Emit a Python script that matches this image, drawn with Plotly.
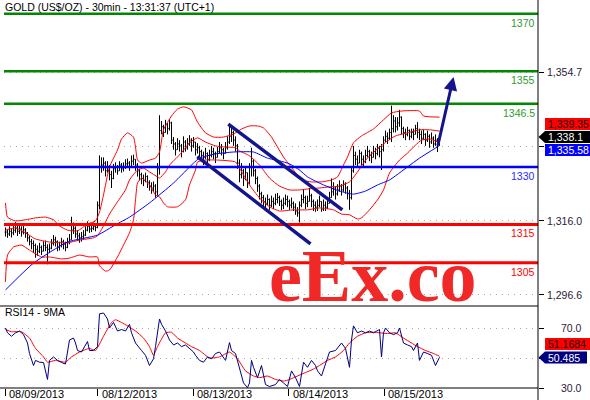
import plotly.graph_objects as go
from plotly.subplots import make_subplots

# GOLD (US$/OZ) 30-minute bars, 08/09/2013 - 08/15/2013
closes = [
    1313.0, 1312.5, 1313.2, 1312.8, 1313.5, 1314.0, 1313.2, 1313.8, 1313.0, 1313.6,
    1312.8, 1311.5, 1310.5, 1310.0, 1309.5, 1308.5, 1308.0, 1309.0, 1308.0, 1309.5,
    1309.0, 1308.5, 1308.8, 1310.0, 1311.0, 1310.5, 1309.0, 1309.5, 1310.5, 1309.8,
    1309.0, 1310.2, 1311.0, 1313.5, 1314.0, 1312.5, 1312.0, 1311.5, 1311.8, 1312.2,
    1313.5, 1314.5, 1313.8, 1314.0, 1314.5, 1314.2, 1320.0, 1330.0, 1330.5, 1331.0,
    1329.0, 1330.0, 1328.0, 1327.0, 1329.5, 1330.0, 1329.0, 1330.5, 1329.5, 1330.0,
    1330.8, 1331.0, 1330.0, 1331.5, 1332.0, 1330.5, 1329.0, 1328.0, 1327.0, 1326.5,
    1327.5, 1326.0, 1325.0, 1324.5, 1325.0, 1323.5, 1329.5, 1339.5, 1340.5, 1339.0,
    1341.0, 1340.0, 1341.5, 1337.0, 1336.0, 1334.5, 1336.0, 1335.5, 1334.0, 1336.5,
    1335.0, 1336.0, 1337.0, 1335.5, 1336.5, 1334.5, 1335.0, 1334.0, 1333.0, 1332.5,
    1333.5, 1332.0, 1333.0, 1334.0, 1333.5, 1332.5, 1334.0, 1335.0, 1334.5, 1333.5,
    1335.0, 1336.5, 1338.0, 1339.0, 1337.0, 1335.5, 1331.0, 1328.0, 1329.0, 1327.0,
    1328.5, 1326.0, 1330.0, 1331.5, 1329.0, 1327.0, 1325.0, 1323.0, 1322.0, 1321.0,
    1320.5, 1321.5, 1320.0, 1321.0, 1320.5, 1321.5, 1322.0, 1321.0, 1320.0, 1320.5,
    1321.5, 1321.0, 1320.0, 1320.5, 1319.5, 1318.5, 1318.0, 1320.0, 1321.5, 1322.0,
    1320.5, 1321.0, 1322.5, 1321.0, 1320.0, 1319.5, 1320.0, 1321.0, 1319.0, 1320.0,
    1319.5, 1320.5, 1322.0, 1323.5, 1324.5, 1323.0, 1324.0, 1325.0, 1324.0, 1325.5,
    1324.5, 1323.0, 1322.0, 1329.0, 1333.0, 1332.0, 1331.0, 1333.5, 1332.0, 1331.5,
    1333.0, 1334.0, 1333.0, 1332.5, 1334.0, 1333.5, 1335.0, 1334.0, 1334.5, 1337.0,
    1338.0, 1337.5, 1339.0, 1340.0, 1342.0, 1340.5, 1341.5, 1343.0, 1340.0, 1339.0,
    1338.5, 1339.5, 1338.0, 1339.0, 1338.5, 1340.0, 1339.0, 1338.5, 1337.5, 1338.5,
    1337.0, 1338.0, 1336.5, 1337.5, 1336.0, 1337.0, 1336.0, 1338.1,
]
highs = [
    1314.2, 1313.6, 1314.5, 1314.0, 1314.8, 1315.6, 1314.6, 1314.8, 1314.5, 1314.8,
    1314.0, 1313.0, 1312.0, 1311.2, 1310.8, 1310.0, 1309.5, 1310.2, 1309.5, 1310.6,
    1310.8, 1309.8, 1310.0, 1311.2, 1312.2, 1311.8, 1310.8, 1310.5, 1311.5, 1311.0,
    1310.5, 1311.5, 1312.5, 1317.0, 1315.5, 1314.5, 1313.5, 1312.8, 1313.0, 1313.5,
    1314.5, 1315.8, 1315.0, 1315.2, 1315.5, 1315.3, 1321.0, 1333.0, 1332.5, 1332.5,
    1331.5, 1331.5, 1330.5, 1329.0, 1330.8, 1331.2, 1330.5, 1331.5, 1331.0, 1331.2,
    1332.0, 1332.2, 1331.5, 1333.0, 1333.2, 1332.0, 1331.0, 1329.5, 1328.5, 1328.0,
    1328.5, 1327.8, 1326.5, 1326.0, 1326.2, 1325.5, 1331.0, 1343.5, 1342.0, 1341.0,
    1342.3, 1341.5, 1342.5, 1341.8, 1337.8, 1336.5, 1337.5, 1337.0, 1336.0, 1338.0,
    1337.0, 1337.5, 1338.3, 1337.5, 1337.8, 1336.5, 1336.2, 1335.5, 1334.5, 1334.0,
    1335.0, 1333.8, 1334.5, 1335.5, 1335.0, 1334.0, 1335.2, 1336.5, 1336.0, 1335.0,
    1336.5, 1338.0, 1341.4, 1340.5, 1339.5, 1338.0, 1336.0, 1332.0, 1331.0, 1329.5,
    1330.0, 1328.5, 1331.0, 1335.0, 1332.0, 1329.5, 1327.5, 1325.5, 1323.5, 1322.7,
    1322.0, 1322.8, 1321.8, 1322.5, 1322.0, 1323.0, 1323.2, 1322.5, 1321.5, 1322.0,
    1322.8, 1322.5, 1321.5, 1322.0, 1321.0, 1320.5, 1319.5, 1321.0, 1322.8, 1324.0,
    1322.5, 1322.5, 1324.5, 1323.0, 1321.5, 1321.0, 1321.5, 1322.5, 1321.0, 1321.5,
    1321.0, 1322.0, 1323.5, 1327.0, 1326.0, 1325.0, 1325.5, 1326.5, 1325.5, 1326.5,
    1326.0, 1325.0, 1324.0, 1330.0, 1335.5, 1334.0, 1333.0, 1334.5, 1334.0, 1333.0,
    1334.5, 1335.5, 1334.5, 1334.0, 1335.5, 1335.0, 1336.0, 1335.5, 1336.0, 1338.0,
    1339.5, 1339.0, 1340.0, 1346.0, 1343.5, 1343.0, 1343.0, 1344.9, 1343.2, 1340.5,
    1340.0, 1340.5, 1339.8, 1340.0, 1340.0, 1341.0, 1341.7, 1340.0, 1339.5, 1339.8,
    1338.8, 1339.5, 1338.5, 1339.0, 1338.0, 1338.5, 1337.5, 1338.6,
]
lows = [
    1311.8, 1311.5, 1312.0, 1311.6, 1312.2, 1312.8, 1312.0, 1312.5, 1311.8, 1312.4,
    1311.5, 1310.5, 1309.5, 1308.5, 1307.5, 1306.3, 1306.8, 1307.5, 1307.0, 1308.0,
    1308.0, 1304.6, 1307.5, 1308.5, 1309.5, 1309.2, 1308.0, 1308.2, 1309.0, 1308.5,
    1308.0, 1308.8, 1309.8, 1311.0, 1312.5, 1311.5, 1310.8, 1310.2, 1310.5, 1311.0,
    1312.0, 1313.2, 1312.8, 1313.0, 1313.5, 1313.2, 1314.0, 1319.0, 1328.5, 1329.0,
    1327.5, 1328.5, 1326.5, 1324.5, 1326.8, 1328.5, 1328.0, 1329.0, 1328.5, 1328.8,
    1329.5, 1329.8, 1329.0, 1330.0, 1330.5, 1329.0, 1327.5, 1326.5, 1325.5, 1325.0,
    1326.0, 1324.5, 1323.8, 1323.0, 1323.5, 1322.0, 1322.5, 1328.0, 1338.5, 1337.8,
    1339.0, 1338.5, 1339.5, 1336.0, 1334.5, 1333.0, 1334.5, 1334.0, 1332.5, 1333.8,
    1334.0, 1334.5, 1335.5, 1334.0, 1335.0, 1333.0, 1333.5, 1332.0, 1331.5, 1330.5,
    1332.0, 1330.5, 1331.5, 1332.5, 1332.0, 1331.0, 1332.5, 1333.5, 1333.0, 1332.0,
    1333.5, 1334.5, 1336.0, 1336.5, 1335.5, 1334.0, 1329.5, 1326.0, 1327.0, 1325.0,
    1326.5, 1324.5, 1325.5, 1327.5, 1327.5, 1325.5, 1323.5, 1321.5, 1320.5, 1319.5,
    1319.0, 1320.0, 1318.8, 1319.5, 1319.0, 1320.0, 1320.5, 1319.8, 1318.7, 1319.0,
    1320.0, 1319.5, 1318.8, 1319.2, 1318.5, 1317.5, 1317.0, 1315.5, 1319.5, 1320.5,
    1319.0, 1319.5, 1321.0, 1319.5, 1318.5, 1318.3, 1318.5, 1319.5, 1318.3, 1318.5,
    1318.5, 1319.0, 1320.5, 1322.0, 1322.5, 1321.5, 1322.5, 1323.5, 1322.5, 1323.5,
    1323.0, 1321.5, 1318.8, 1321.5, 1328.5, 1330.5, 1329.8, 1331.0, 1330.5, 1330.0,
    1331.0, 1332.5, 1331.5, 1331.0, 1332.5, 1332.0, 1333.0, 1332.5, 1329.2, 1334.0,
    1336.5, 1336.0, 1337.0, 1336.5, 1339.0, 1339.0, 1339.5, 1340.5, 1338.5, 1337.5,
    1337.0, 1338.0, 1337.0, 1337.5, 1337.0, 1338.5, 1337.5, 1337.0, 1336.0, 1337.0,
    1335.5, 1336.5, 1335.0, 1336.0, 1335.0, 1335.5, 1333.9, 1335.5,
]

# Bollinger bands (red), sampled at bar index
bb_up_idx = [0, 1, 5, 10, 15, 20, 24, 27, 31, 36, 41, 45, 47, 49, 52, 56, 58, 61, 64, 65,
             66, 68, 72, 75, 77, 79, 83, 86, 89, 93, 96, 100, 104, 109, 114, 118, 122, 126, 129, 133,
             136, 139, 144, 148, 153, 158, 163, 166, 169, 171, 174, 178, 184, 189, 193, 198, 207, 209, 217]
bb_up = [1320.6, 1316.9, 1315.9, 1316.2, 1316.7, 1316.9, 1316.2, 1314.6, 1313.5, 1313.3,
         1315.1, 1315.9, 1318.2, 1322.7, 1330.0, 1334.4, 1337.3, 1338.9, 1337.8, 1335.2,
         1331.8, 1331.0, 1331.8, 1332.3, 1333.9, 1339.7, 1343.3, 1345.1, 1345.7, 1344.9,
         1341.7, 1338.9, 1337.8, 1337.8, 1338.6, 1339.9, 1340.7, 1340.7, 1340.2, 1337.8,
         1335.2, 1332.6, 1329.2, 1326.6, 1326.1, 1326.1, 1326.6, 1327.4, 1330.5, 1332.6,
         1336.3, 1338.1, 1339.9, 1342.3, 1344.1, 1344.6, 1344.6, 1343.3, 1343.0]
bb_mid_idx = [0, 5, 10, 15, 22, 31, 37, 44, 46, 49, 52, 56, 60, 62, 66, 69, 72, 76, 77, 80,
              82, 86, 89, 92, 96, 100, 105, 110, 115, 117, 122, 127, 132, 137, 142, 147, 152, 157, 162, 167,
              172, 176, 179, 182, 186, 191, 195, 201, 207, 212, 217]
bb_mid = [1313.5, 1314.1, 1312.8, 1311.2, 1310.4, 1310.2, 1310.9, 1311.5, 1312.0, 1314.6,
          1317.7, 1320.9, 1324.0, 1326.6, 1329.2, 1329.7, 1328.7, 1327.4, 1327.1, 1328.7,
          1330.5, 1332.6, 1334.4, 1336.3, 1337.6, 1336.5, 1335.5, 1335.2, 1335.0, 1334.2,
          1332.9, 1330.5, 1327.1, 1325.0, 1324.0, 1324.0, 1324.3, 1324.5, 1324.8, 1325.0,
          1326.1, 1328.7, 1331.0, 1332.9, 1334.7, 1336.8, 1338.1, 1338.9, 1339.7, 1339.7, 1339.35]
bb_low_idx = [0, 1, 4, 8, 12, 18, 22, 28, 32, 37, 42, 46, 47, 50, 52, 56, 59, 62, 64, 65,
              66, 68, 72, 75, 77, 79, 81, 86, 90, 92, 95, 96, 100, 106, 115, 117, 122, 127, 132, 137,
              144, 151, 157, 164, 168, 172, 176, 178, 182, 186, 189, 192, 197, 201, 205, 208, 212, 217]
bb_low = [1300.0, 1307.0, 1309.1, 1309.6, 1308.3, 1306.5, 1306.5, 1306.0, 1306.2, 1307.0,
          1306.5, 1306.5, 1304.2, 1302.8, 1303.1, 1306.5, 1309.6, 1312.8, 1316.2, 1321.4,
          1325.8, 1327.1, 1325.3, 1322.7, 1322.2, 1320.6, 1319.6, 1319.6, 1321.4, 1325.3,
          1329.2, 1331.3, 1331.8, 1331.8, 1331.3, 1329.7, 1325.3, 1321.9, 1319.6, 1318.5,
          1318.8, 1318.8, 1319.3, 1318.8, 1317.7, 1317.5, 1316.4, 1316.7, 1318.8, 1321.4,
          1324.0, 1328.4, 1331.8, 1333.6, 1335.7, 1337.0, 1337.3, 1336.3]

# longer moving average (blue)
ma_idx = [0, 14, 31, 46, 55, 62, 72, 84, 94, 97, 105, 114, 124, 131, 137, 142, 147, 151,
          159, 167, 174, 180, 186, 192, 201, 207, 217]
ma_val = [1297.9, 1304.9, 1310.4, 1312.2, 1314.9, 1316.9, 1320.6, 1325.8, 1331.0, 1332.3,
          1333.4, 1333.9, 1333.9, 1332.3, 1331.6, 1330.8, 1329.2, 1327.4, 1325.3, 1323.7,
          1322.9, 1323.7, 1325.3, 1326.6, 1330.0, 1332.3, 1335.58]

# RSI14 (navy) and its 9MA (red)
rsi_idx = [0, 1, 3, 5, 7, 9, 11, 12, 14, 15, 17, 19, 21, 22, 24, 26, 28, 30, 32, 34,
           35, 36, 38, 39, 41, 42, 44, 46, 47, 49, 51, 52, 54, 56, 58, 60, 62, 63, 65, 68,
           70, 72, 74, 75, 77, 78, 80, 82, 84, 86, 88, 90, 92, 94, 95, 97, 99, 101, 103, 105,
           107, 109, 110, 112, 113, 115, 117, 119, 121, 122, 123, 124, 126, 128, 130, 132, 135, 137, 139, 141,
           143, 145, 147, 149, 151, 153, 155, 156, 158, 160, 162, 165, 168, 170, 172, 173, 174, 176, 178, 180,
           182, 184, 186, 187, 188, 189, 190, 192, 194, 196, 197, 199, 201, 203, 204, 206, 207, 209, 211, 213,
           215, 217]
rsi_val = [70, 66.8, 64.5, 66.8, 68, 65.6, 60, 53, 45, 48.4, 47.2, 47, 35.7, 48.4, 50.7, 48.4, 47, 46, 62, 63.3,
           60, 55, 54, 56.4, 61, 55, 55, 57.6, 79.4, 80, 76, 70, 73.7, 68, 69, 68, 72.5, 66.8, 60, 55,
           51.8, 45, 49.5, 57.6, 76, 72.5, 68, 62, 58.7, 60, 57.6, 58.7, 56.4, 54, 51.8, 48.4, 47.2, 50.7, 49.5, 53,
           54, 50.7, 48.4, 60.3, 55, 53, 43.8, 33.4, 30.2, 33.4, 48.4, 43.8, 36.9, 45, 32.3, 31, 32.3, 35.7, 33.4, 31,
           41.4, 36.9, 31, 47.2, 43.8, 48.4, 45, 41.4, 38, 46, 54, 55, 60, 56.4, 43.8, 62, 71.4, 66.8, 68, 66.8,
           68, 66.8, 68, 69, 50.7, 66.8, 70, 66.8, 65.6, 66.8, 70, 60, 58.7, 57.6, 55, 60, 48.4, 54, 53, 51.8,
           45, 50.485]
rsi_ma_idx = [0, 3, 8, 12, 15, 19, 21, 25, 30, 33, 37, 42, 45, 49, 53, 55, 58, 61, 65, 69,
              72, 74, 76, 80, 83, 86, 90, 93, 97, 102, 107, 112, 116, 120, 124, 127, 131, 135, 139, 142,
              146, 150, 154, 157, 161, 165, 169, 172, 176, 180, 184, 187, 191, 195, 199, 203, 206, 210, 214, 217]
rsi_ma_val = [69, 67.5, 67.5, 63.3, 56.4, 50.7, 47.2, 48.4, 47.2, 50.7, 54, 56.4, 55, 64.5, 73.7, 75.5, 73.7, 71.4, 68, 63.3,
              57.6, 51.8, 57.6, 66.8, 67.2, 63.3, 60, 57.6, 55, 50, 50.7, 54, 49.5, 41.4, 38, 36.9, 38, 35.7, 34.6, 35.7,
              38, 40.3, 42.6, 45, 48.4, 50.7, 55, 60, 64.5, 66.8, 67.2, 66.8, 66.3, 66.8, 63.3, 60, 57.6, 55, 53, 51.1684]

# horizontal levels drawn on the chart
green_levels = [1370, 1355, 1346.5]
blue_levels = [1330]
red_levels = [1315, 1305]

# trend channel and projected move, (bar index, price)
channel_upper = [(111.4, 1341.2), (168.4, 1318.8)]
channel_lower = [(95.9, 1332.7), (152.5, 1309.9)]
arrow_from = (216, 1335.2)
arrow_to = (224, 1353.5)

day_ticks = [-0.25, 46, 93.75, 141.5, 189.25]
day_labels = ['08/09/2013', '08/12/2013', '08/13/2013', '08/14/2013', '08/15/2013']
price_ticks = [1296.6, 1316.0, 1335.35, 1354.7]
price_labels = ['1,296.6', '1,316.0', '', '1,354.7']
rsi_ticks = [30, 50, 70]
rsi_labels = ['30.0', '', '70.0']

FONT = 'Liberation Sans, Arial, sans-serif'
NAVY = '#14148c'

# plot area is 4..538 px wide, 0..388 px high
def px_x(x):
    return (x - 4) / 534.0


def px_y(y):
    return (388 - y) / 388.0


bars = list(range(len(closes)))
opens = [closes[0]] + closes[:-1]

fig = make_subplots(rows=2, cols=1, shared_xaxes=True, vertical_spacing=0,
                    row_heights=[306, 82])

band = dict(color='#ff0000', width=1, shape='spline', smoothing=0.5)
fig.add_trace(go.Scatter(x=bb_up_idx, y=bb_up, mode='lines', line=band), row=1, col=1)
fig.add_trace(go.Scatter(x=bb_mid_idx, y=bb_mid, mode='lines', line=band), row=1, col=1)
fig.add_trace(go.Scatter(x=bb_low_idx, y=bb_low, mode='lines', line=band), row=1, col=1)
fig.add_trace(go.Scatter(x=ma_idx, y=ma_val, mode='lines',
                         line=dict(color='#0000ff', width=1, shape='spline', smoothing=0.5)),
              row=1, col=1)
fig.add_trace(go.Ohlc(x=bars, open=opens, high=highs, low=lows, close=closes,
                      increasing_line_color='black', decreasing_line_color='black',
                      line_width=1, tickwidth=0.45), row=1, col=1)

fig.add_trace(go.Scatter(x=rsi_ma_idx, y=rsi_ma_val, mode='lines',
                         line=dict(color='#ff0000', width=1, shape='spline', smoothing=0.4)),
              row=2, col=1)
fig.add_trace(go.Scatter(x=rsi_idx, y=rsi_val, mode='lines',
                         line=dict(color='#000080', width=1)), row=2, col=1)

shapes = []
annotations = []

for levels, color, lcolor, w in [(green_levels, '#008800', '#2f9a2f', 2.5),
                                 (blue_levels, '#0000ff', '#2b2bff', 2.5),
                                 (red_levels, '#ff0000', '#ff0000', 3)]:
    for lvl in levels:
        shapes.append(dict(type='line', xref='paper', yref='y', x0=0, x1=1, y0=lvl, y1=lvl,
                           line=dict(color=color, width=w), layer='above'))
        annotations.append(dict(xref='paper', yref='y', x=1, y=lvl, xanchor='right', yanchor='top',
                                xshift=-1, yshift=-1, text=f'{lvl:g}', showarrow=False,
                                font=dict(family=FONT, size=10.5, color=lcolor)))

for (x0, y0), (x1, y1) in [channel_upper, channel_lower]:
    shapes.append(dict(type='line', xref='x', yref='y', x0=x0, y0=y0, x1=x1, y1=y1,
                       line=dict(color=NAVY, width=3.5), layer='above'))

# frame
shapes.append(dict(type='line', xref='paper', yref='paper', x0=1, x1=1, y0=px_y(400), y1=1,
                   line=dict(color='black', width=1)))
for yy in (306, 388):
    shapes.append(dict(type='line', xref='paper', yref='paper', x0=px_x(0), x1=1,
                       y0=px_y(yy), y1=px_y(yy), line=dict(color='black', width=1)))

# arrow
annotations.append(dict(xref='x', yref='y', axref='x', ayref='y',
                        x=arrow_to[0], y=arrow_to[1], ax=arrow_from[0], ay=arrow_from[1],
                        text='', showarrow=True, arrowhead=2, arrowsize=0.9, arrowwidth=3,
                        arrowcolor=NAVY, standoff=0))

# right axis labels (right aligned)
for v, t in zip(price_ticks, price_labels):
    if t:
        annotations.append(dict(xref='paper', yref='y', x=px_x(584), y=v, xanchor='right',
                                yanchor='middle', text=t, showarrow=False,
                                font=dict(family=FONT, size=10.5, color='#2a2038')))
for v, t in zip(rsi_ticks, rsi_labels):
    if t:
        annotations.append(dict(xref='paper', yref='y2', x=px_x(584), y=v, xanchor='right',
                                yanchor='middle', text=t, showarrow=False,
                                font=dict(family=FONT, size=10.5, color='#2a2038')))


def value_box(y_top, y_bot, fill, text, tcolor, pointer=False, x_right=590):
    if pointer:
        ym = (y_top + y_bot) / 2
        path = (f'M {px_x(538.5)},{px_y(ym)} L {px_x(545)},{px_y(y_top)} '
                f'L {px_x(x_right)},{px_y(y_top)} L {px_x(x_right)},{px_y(y_bot)} '
                f'L {px_x(545)},{px_y(y_bot)} Z')
        shapes.append(dict(type='path', xref='paper', yref='paper', path=path,
                           fillcolor=fill, line=dict(width=0)))
    else:
        shapes.append(dict(type='rect', xref='paper', yref='paper', x0=px_x(545), x1=px_x(x_right),
                           y0=px_y(y_bot), y1=px_y(y_top), fillcolor=fill, line=dict(width=0)))
    annotations.append(dict(xref='paper', yref='paper', x=px_x(546), y=px_y((y_top + y_bot) / 2),
                            xanchor='left', yanchor='middle', text=text, showarrow=False,
                            font=dict(family=FONT, size=10.5, color=tcolor)))


value_box(118, 130, '#ff0000', f'{bb_mid[-1]:,.2f}', '#1a0000')
value_box(131, 143, '#000000', f'{closes[-1]:,.1f}', 'white', pointer=True)
value_box(144, 156, '#0000ff', f'{ma_val[-1]:,.2f}', 'white')
value_box(338, 350, '#ff0000', f'{rsi_ma_val[-1]:.4f}', '#1a0000')
value_box(351.5, 363.5, '#000080', f'{rsi_val[-1]:.3f}', 'white', pointer=True, x_right=587)

# titles
annotations.append(dict(xref='paper', yref='paper', x=px_x(3), y=px_y(7), xanchor='left',
                        yanchor='middle', text='GOLD (US$/OZ) - 30min - 13:31:37 (UTC+1)',
                        showarrow=False, font=dict(family=FONT, size=10.5, color='black')))
annotations.append(dict(xref='paper', yref='paper', x=px_x(3), y=px_y(312), xanchor='left',
                        yanchor='middle', text='RSI14 - 9MA',
                        showarrow=False, font=dict(family=FONT, size=10.5, color='black')))

# date labels
for v, t in zip(day_ticks, day_labels):
    annotations.append(dict(xref='x', yref='paper', x=v, y=0, xanchor='left', yanchor='top',
                            xshift=2, yshift=2, text=t, showarrow=False,
                            font=dict(family=FONT, size=11, color='black')))

# watermark
annotations.append(dict(xref='paper', yref='paper', x=px_x(373), y=px_y(276), xanchor='center',
                        yanchor='middle', text='<b>eEx.co</b>', showarrow=False,
                        font=dict(family='Liberation Serif, serif', size=74, color='#f02828')))

fig.update_layout(
    width=590, height=400,
    margin=dict(l=4, r=52, t=0, b=12),
    plot_bgcolor='white', paper_bgcolor='white',
    showlegend=False,
    shapes=shapes,
    annotations=annotations,
    font=dict(family=FONT, size=11, color='black'),
)
# half-bar offset keeps the 1px bar lines on pixel centres
fig.update_xaxes(range=[-0.75, 266.25], showgrid=False, zeroline=False, showline=False,
                 rangeslider_visible=False, showticklabels=False)
fig.update_xaxes(ticks='outside', ticklen=7, tickcolor='black', tickwidth=1,
                 tickvals=day_ticks, row=2, col=1)
fig.update_yaxes(side='right', showticklabels=False, zeroline=False, showline=False,
                 ticks='outside', ticklen=5, tickcolor='black',
                 showgrid=True, gridcolor='#a8a8a8', griddash='1px,5px', gridwidth=1)
fig.update_yaxes(range=[1293.7, 1373.58], tickvals=price_ticks, row=1, col=1)
fig.update_yaxes(range=[30, 84.67], tickvals=rsi_ticks, row=2, col=1)

fig.write_html("out.html", config={'displayModeBar': False},
               post_script="document.body.style.margin='0';")
